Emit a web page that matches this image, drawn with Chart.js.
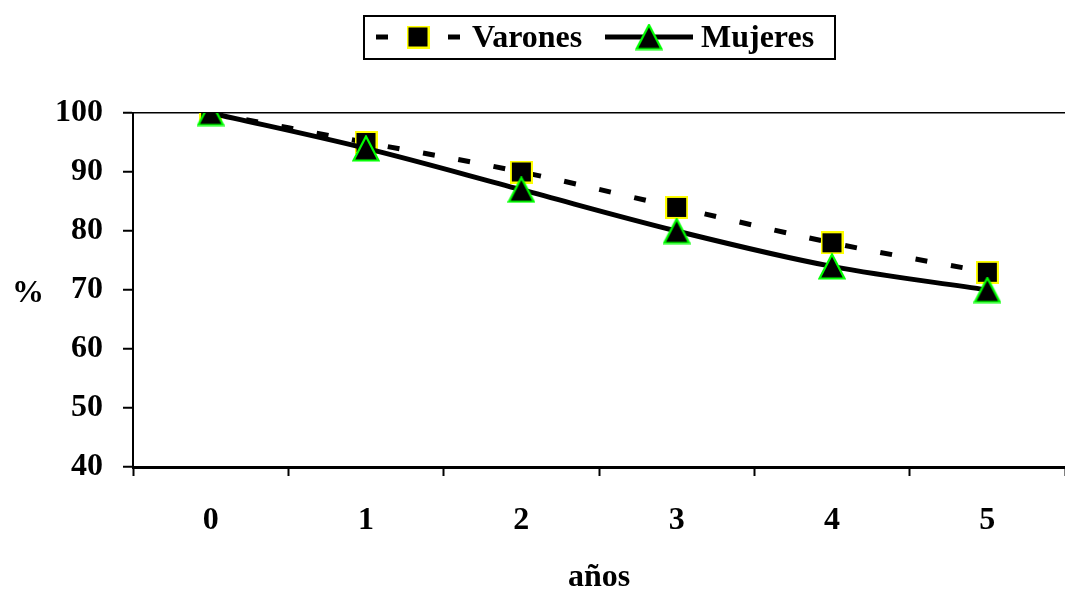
<!DOCTYPE html>
<html>
<head>
<meta charset="utf-8">
<script src="https://cdn.jsdelivr.net/npm/chart.js@4"></script>
<style>
  html, body { margin: 0; padding: 0; background: #fff; }
</style>
</head>
<body>
<canvas id="chart" width="1065" height="591"></canvas>
<script>
// data
const years = ['0', '1', '2', '3', '4', '5'];
const varones = [100, 95, 90, 84, 78, 73];
const mujeres = [100, 94, 87, 80, 74, 70];
const yTicks = [40, 50, 60, 70, 80, 90, 100];

Chart.defaults.font.family = "'Liberation Serif', 'Times New Roman', serif";
Chart.defaults.font.weight = 'bold';
Chart.defaults.font.size = 32;
Chart.defaults.color = '#000';

// marker images: black square with yellow rim, black triangle with green rim
function squareMarker() {
    const c = document.createElement('canvas');
    c.width = 23; c.height = 23;
    const g = c.getContext('2d');
    g.fillStyle = '#ffff00';
    g.fillRect(0, 0, 23, 23);
    g.fillStyle = '#000';
    g.fillRect(2, 2, 19, 19);
    return c;
}
function triangleMarker() {
    const c = document.createElement('canvas');
    c.width = 28; c.height = 27;
    const g = c.getContext('2d');
    g.beginPath();
    g.moveTo(14, 1.5);
    g.lineTo(26.5, 25.5);
    g.lineTo(1.5, 25.5);
    g.closePath();
    g.fillStyle = '#000';
    g.fill();
    g.lineWidth = 2.2;
    g.strokeStyle = '#00ff00';
    g.stroke();
    return c;
}
const sq = squareMarker();
const tri = triangleMarker();

// legend in a box at the top + the "%" label
const extras = {
    id: 'extras',
    afterDraw(chart) {
        const ctx = chart.ctx;
        ctx.save();
        ctx.lineWidth = 2;
        ctx.strokeStyle = '#000';
        ctx.setLineDash([]);
        ctx.strokeRect(364, 16, 471, 43);

        const spots = [{ x1: 376, x2: 460, tx: 472 }, { x1: 605, x2: 693, tx: 701 }];
        const y = 37;
        chart.data.datasets.forEach((ds, i) => {
            const s = spots[i];
            ctx.lineWidth = ds.borderWidth;
            ctx.strokeStyle = ds.borderColor;
            ctx.setLineDash(ds.borderDash || []);
            ctx.beginPath();
            ctx.moveTo(s.x1, y);
            ctx.lineTo(s.x2, y);
            ctx.stroke();
            const img = ds.pointStyle;
            const mx = (s.x1 + s.x2) / 2;
            ctx.drawImage(img, mx - img.width / 2, y - img.height / 2);
            ctx.fillStyle = '#000';
            ctx.font = "bold 32px 'Liberation Serif', serif";
            ctx.textBaseline = 'alphabetic';
            ctx.fillText(ds.label, s.tx, 47);
        });

        ctx.font = "bold 32px 'Liberation Serif', serif";
        ctx.fillText('%', 12, 302);
        ctx.restore();
    }
};

new Chart(document.getElementById('chart'), {
    type: 'line',
    data: {
        labels: years,
        datasets: [{
            label: 'Varones',
            data: varones,
            borderColor: '#000',
            borderWidth: 5,
            borderDash: [12, 24],
            borderCapStyle: 'butt',
            tension: 0.35,
            pointStyle: sq,
            order: 1
        }, {
            label: 'Mujeres',
            data: mujeres,
            borderColor: '#000',
            borderWidth: 5,
            tension: 0.35,
            pointStyle: tri,
            order: 0
        }]
    },
    options: {
        responsive: false,
        animation: false,
        layout: { autoPadding: false, padding: { top: 113, right: -3, bottom: 0, left: 0 } },
        plugins: { legend: { display: false }, tooltip: { enabled: false } },
        scales: {
            x: {
                offset: true,
                grid: {
                    offset: true,
                    drawOnChartArea: false,
                    tickLength: 9,
                    tickColor: '#000',
                    tickWidth: 2
                },
                border: { color: '#000', width: 3 },
                ticks: { padding: 26, maxRotation: 0 },
                title: {
                    display: true,
                    text: 'años',
                    font: { size: 32, weight: 'bold', lineHeight: 0.8 },
                    padding: 0
                },
                afterFit(scale) {
                    scale.height = 124;
                    scale.paddingLeft = 0;
                    scale.paddingRight = 0;
                }
            },
            y: {
                min: 40,
                max: 100,
                afterBuildTicks(scale) { scale.ticks = yTicks.map(v => ({ value: v })); },
                grid: {
                    color: c => (c.tick && c.tick.value === 100) ? '#000' : 'rgba(0,0,0,0)',
                    lineWidth: 1.5,
                    tickLength: 10,
                    tickColor: '#000',
                    tickWidth: 2
                },
                border: { color: '#000', width: 2 },
                ticks: { padding: 20 },
                afterFit(scale) { scale.width = 133; }
            }
        }
    },
    plugins: [extras]
});
</script>
</body>
</html>
